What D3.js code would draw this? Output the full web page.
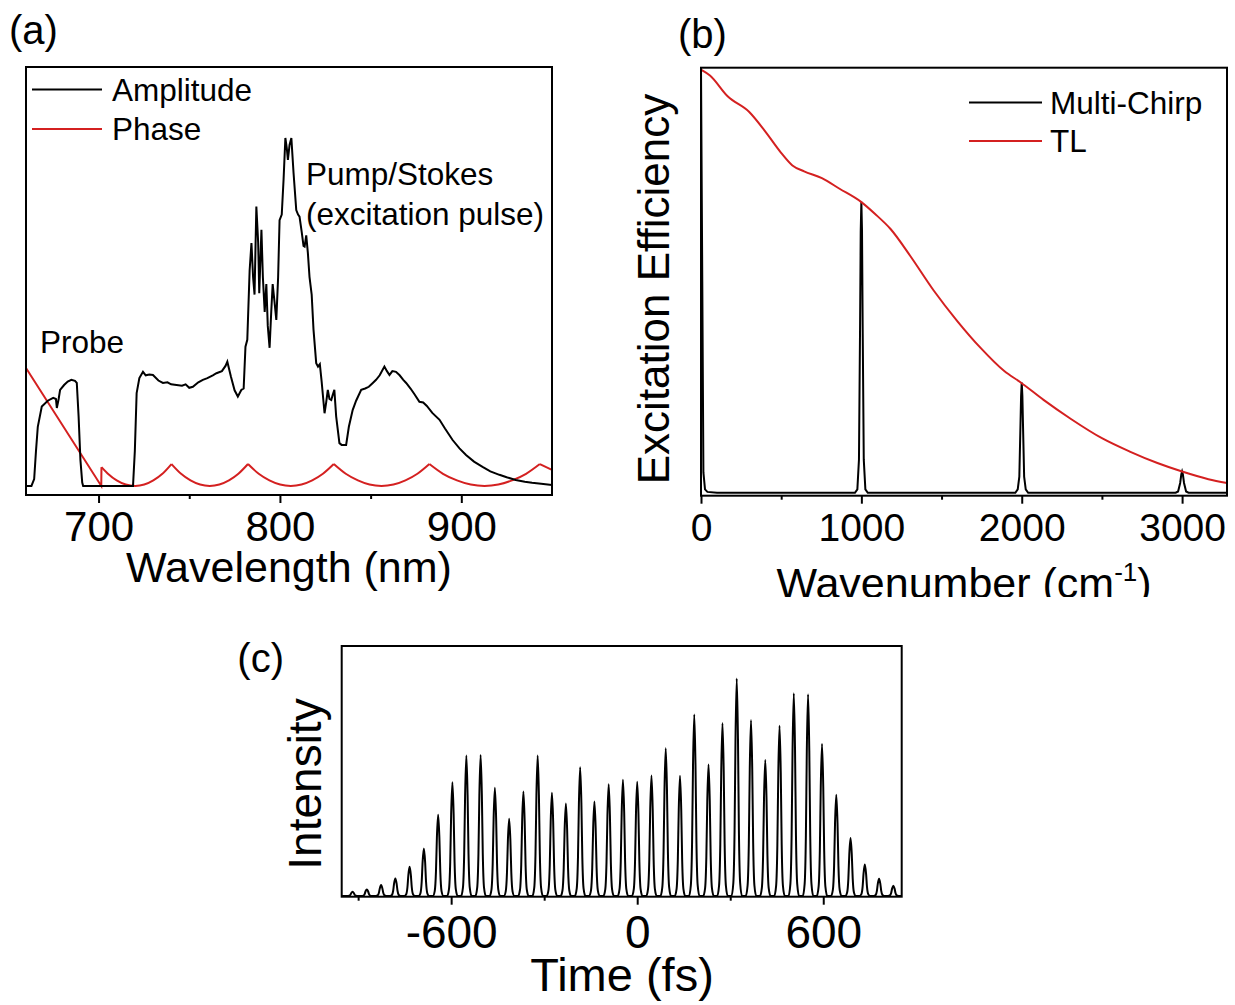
<!DOCTYPE html>
<html>
<meta charset="utf-8">
<style>
body { margin: 0; background: #fff; }
svg text { font-family: "Liberation Sans", Arial, sans-serif; fill: #000; }
.frame { fill: none; stroke: #000; stroke-width: 2; }
.black-line { fill: none; stroke: #000; stroke-width: 2; }
.red-line { fill: none; stroke: #d42020; stroke-width: 2; }
.axis line { stroke: #000; stroke-width: 2; }
.axis path { display: none; }
.legend { font-size: 31.5px; }
.panel-label { font-size: 40px; }
.axis-title { font-size: 43px; }
</style>
<body>
<script src="https://d3js.org/d3.v7.min.js"></script>
<script>

// ---------- (a) spectrum: [wavelength nm, amplitude a.u.] ----------
var ampPoints = [
  [660, 0], [663, 0], [664.5, 0.02], [665.5, 0.1], [666.5, 0.17], [668.7, 0.228], [672, 0.245],
  [675, 0.253], [676.5, 0.25], [677, 0.224], [678, 0.25], [678.8, 0.276], [681, 0.29], [683, 0.3],
  [685, 0.305], [687, 0.302], [688, 0.296], [689, 0.2], [690, 0.075], [691, 0.01], [691.5, 0],
  [719, 0], [720, 0.1], [721, 0.267], [722.5, 0.31], [724.5, 0.328], [726, 0.318], [728, 0.32],
  [730, 0.319], [733, 0.303], [735.5, 0.296], [738, 0.298], [740, 0.292], [743, 0.29], [746, 0.288],
  [748, 0.292], [750, 0.282], [752, 0.285], [755, 0.298], [757.5, 0.305], [760, 0.31], [763, 0.318],
  [765, 0.324], [768, 0.33], [770, 0.345], [771, 0.357], [773, 0.314], [775, 0.275], [776.8, 0.257],
  [778.7, 0.276], [780, 0.28], [781, 0.4], [782, 0.42], [783.3, 0.62], [784.3, 0.698], [785.2, 0.6],
  [786, 0.55], [787, 0.803], [788, 0.7], [788.6, 0.554], [789.8, 0.736], [790.6, 0.6], [791.6, 0.5],
  [792.5, 0.58], [793.3, 0.46], [794.3, 0.397], [795.2, 0.5], [796, 0.58], [797, 0.53], [798, 0.477],
  [799, 0.6], [799.8, 0.764], [801, 0.78], [802, 0.88], [803, 1.0], [803.8, 0.97], [804.4, 0.937],
  [805.3, 0.98], [806.3, 1.0], [807.5, 0.9], [809, 0.793], [810, 0.78], [810.8, 0.774], [812, 0.73],
  [813, 0.69], [813.6, 0.688], [814.5, 0.72], [815.4, 0.67], [816.3, 0.601], [817.5, 0.55],
  [818.5, 0.45], [820, 0.353], [821, 0.343], [822, 0.35], [823, 0.3], [824.6, 0.209], [825.5, 0.24],
  [826.4, 0.276], [827.3, 0.25], [828.3, 0.247], [829, 0.26], [830, 0.276], [831, 0.2], [832.8, 0.123],
  [834, 0.118], [836.5, 0.118], [838, 0.17], [840.1, 0.218], [842, 0.245], [844.8, 0.276], [847, 0.28],
  [849, 0.285], [851.2, 0.296], [853, 0.305], [855, 0.318], [857.6, 0.343], [859, 0.33], [860.4, 0.319],
  [862, 0.33], [864, 0.328], [866, 0.318], [868, 0.305], [869.6, 0.296], [872, 0.28], [874, 0.265],
  [876.9, 0.242], [879, 0.24], [881, 0.23], [884, 0.21], [888, 0.19], [891, 0.165], [895.2, 0.132],
  [899, 0.108], [902.6, 0.089], [907, 0.07], [911.7, 0.055], [916, 0.042], [921, 0.032], [925, 0.025],
  [930, 0.017], [935, 0.012], [939, 0.009], [944, 0.006], [950, 0.003]
];

// phase: straight ramp, then wrapped arcs between cusps
var phaseRamp = [[660, 0.339], [701.5, 0], [701.6, 0.054]];
var phaseArcs = [
  [[701.6, 0.054], [705, 0.036], [710, 0.016], [715, 0.004], [720.2, 0], [725.2, 0.004], [730.2, 0.016], [735.2, 0.035], [740.2, 0.063]],
  [[740.2, 0.063], [745.5, 0.035], [750.7, 0.016], [756, 0.004], [761.3, 0], [766.6, 0.004], [771.9, 0.016], [777.1, 0.035], [782.4, 0.063]],
  [[782.4, 0.063], [788.3, 0.035], [794.2, 0.016], [800.1, 0.004], [806, 0], [811.9, 0.004], [817.8, 0.016], [823.7, 0.035], [829.7, 0.063]],
  [[829.7, 0.063], [836.3, 0.035], [843, 0.016], [849.4, 0.004], [856, 0], [862.6, 0.004], [869.2, 0.016], [875.8, 0.035], [882.4, 0.063]],
  [[882.4, 0.063], [889.9, 0.035], [897.6, 0.016], [905.2, 0.004], [912.8, 0], [920.4, 0.004], [928, 0.016], [935.7, 0.035], [943.3, 0.063]]
];
var phaseTail = [[943.3, 0.063], [950, 0.046]];

var aTicks = [700, 800, 900];
var aMinor = [750, 850];

// ---------- (b) excitation efficiency: [wavenumber cm-1, value] ----------
var tlPoints = [
  [0, 1.0], [56, 0.986], [166, 0.937], [301, 0.9], [399, 0.855], [497, 0.805], [570, 0.774],
  [643, 0.76], [754, 0.744], [864, 0.719], [998, 0.688], [1084, 0.66], [1182, 0.624], [1304, 0.561],
  [1451, 0.479], [1598, 0.407], [1745, 0.343], [1891, 0.289], [1994, 0.262], [2136, 0.221],
  [2307, 0.176], [2503, 0.13], [2674, 0.099], [2846, 0.072], [3000, 0.052], [3164, 0.034], [3280, 0.025]
];
var chirpPoints = [
  [0, 1.004], [8, 0.5], [15, 0.05], [25, 0.01], [40, 0.004], [100, 0.002], [960, 0.002],
  [975, 0.01], [985, 0.08], [992, 0.4], [996, 0.62], [1000, 0.688], [1004, 0.62], [1008, 0.4],
  [1015, 0.08], [1025, 0.01], [1040, 0.002], [1960, 0.002], [1975, 0.01], [1985, 0.04], [1992, 0.16],
  [1996, 0.23], [2000, 0.262], [2004, 0.23], [2008, 0.16], [2015, 0.04], [2025, 0.01], [2040, 0.002],
  [2960, 0.002], [2975, 0.005], [2988, 0.025], [2995, 0.045], [3000, 0.052], [3005, 0.045],
  [3012, 0.025], [3025, 0.005], [3040, 0.002], [3280, 0.002]
];
var bTicks = [0, 1000, 2000, 3000];
var bMinor = [500, 1500, 2500];

// ---------- (c) pulse train ----------
var pulseTimes = [-918, -872, -826, -780, -734, -688, -642, -596, -551, -505, -459, -413, -367,
  -321, -275, -230, -184, -138, -92, -46, 0, 46, 92, 138, 184, 230, 275, 321, 367, 413, 459, 505,
  551, 596, 642, 688, 734, 780, 826];
var pulseHeights = [13, 20, 33, 53, 88, 143, 245, 343, 423, 425, 326, 233, 315, 423, 311, 279, 388,
  285, 337, 350, 344, 363, 445, 362, 547, 396, 521, 655, 530, 410, 513, 611, 608, 458, 305, 175, 95, 52, 31];
// single pulse profile: [offset fs, fraction of peak]
var pulseShape = [[-17, 0], [-11, 0.06], [-7, 0.3], [-4, 0.72], [0, 1], [4, 0.72], [7, 0.3], [11, 0.06], [17, 0]];
var cTicks = [-600, 0, 600];
var cMinor = [-900, -300, 300];


var svg = d3.select("body").append("svg")
    .attr("width", 1235)
    .attr("height", 1005)
    .style("display", "block");

function bottomAxis(g, x, y, major, minor, fontSize, pad, len) {
  var ax = g.append("g").attr("class", "axis").attr("transform", "translate(0," + y + ")")
    .call(d3.axisBottom(x).tickValues(major).tickSize(len).tickPadding(pad)
      .tickFormat(function(d) { return String(d); }));
  ax.attr("font-size", null).attr("font-family", null);
  ax.selectAll("text").style("font-size", fontSize + "px");
  g.append("g").attr("class", "axis").attr("transform", "translate(0," + y + ")")
    .call(d3.axisBottom(x).tickValues(minor).tickSize(len / 2).tickFormat(""));
}

// ===== panel (a) =====
var xA = d3.scaleLinear().domain([660, 950]).range([26, 552]);
var yA = d3.scaleLinear().domain([-0.026, 1.204]).range([495, 67]);
var pa = svg.append("g");

var lineA = d3.line().x(function(d) { return xA(d[0]); }).y(function(d) { return yA(d[1]); });
var arcA = d3.line().curve(d3.curveMonotoneX).x(function(d) { return xA(d[0]); }).y(function(d) { return yA(d[1]); });

pa.append("path").attr("class", "red-line").attr("d", lineA(phaseRamp));
phaseArcs.forEach(function(arc) {
  pa.append("path").attr("class", "red-line").attr("d", arcA(arc));
});
pa.append("path").attr("class", "red-line").attr("d", lineA(phaseTail));
pa.append("path").attr("class", "black-line").attr("d", lineA(ampPoints));

pa.append("rect").attr("class", "frame").attr("x", 26).attr("y", 67).attr("width", 526).attr("height", 428);
bottomAxis(pa, xA, 495, aTicks, aMinor, 42, 8, 8);

pa.append("line").attr("x1", 32).attr("x2", 102).attr("y1", 89.5).attr("y2", 89.5).attr("stroke", "#000").attr("stroke-width", 2);
pa.append("text").attr("class", "legend").attr("x", 112).attr("y", 100.5).text("Amplitude");
pa.append("line").attr("x1", 32).attr("x2", 102).attr("y1", 129).attr("y2", 129).attr("stroke", "#d42020").attr("stroke-width", 2);
pa.append("text").attr("class", "legend").attr("x", 112).attr("y", 140).text("Phase");

pa.append("text").attr("class", "legend").attr("x", 40).attr("y", 353).text("Probe");
pa.append("text").attr("class", "legend").attr("x", 306).attr("y", 185).text("Pump/Stokes");
pa.append("text").attr("class", "legend").attr("x", 306).attr("y", 225).text("(excitation pulse)");

pa.append("text").attr("class", "panel-label").attr("x", 9).attr("y", 44).text("(a)");
pa.append("text").attr("class", "axis-title").attr("x", 289).attr("y", 582).attr("text-anchor", "middle").text("Wavelength (nm)");

// ===== panel (b) =====
var xB = d3.scaleLinear().domain([0, 3280]).range([701, 1227]);
var yB = d3.scaleLinear().domain([-0.005, 1.0045]).range([495.7, 67.7]);
var pb = svg.append("g");

var lineB = d3.line().x(function(d) { return xB(d[0]); }).y(function(d) { return yB(d[1]); });
var smoothB = d3.line().curve(d3.curveMonotoneX).x(function(d) { return xB(d[0]); }).y(function(d) { return yB(d[1]); });

pb.append("path").attr("class", "black-line").attr("d", lineB(chirpPoints));
pb.append("path").attr("class", "red-line").attr("d", smoothB(tlPoints));

pb.append("rect").attr("class", "frame").attr("x", 701).attr("y", 67.7).attr("width", 526).attr("height", 428);
bottomAxis(pb, xB, 495.7, bTicks, bMinor, 39, 10, 8);

pb.append("line").attr("x1", 969).attr("x2", 1042).attr("y1", 102.5).attr("y2", 102.5).attr("stroke", "#000").attr("stroke-width", 2);
pb.append("text").attr("class", "legend").attr("x", 1050).attr("y", 113.5).text("Multi-Chirp");
pb.append("line").attr("x1", 969).attr("x2", 1042).attr("y1", 141).attr("y2", 141).attr("stroke", "#d42020").attr("stroke-width", 2);
pb.append("text").attr("class", "legend").attr("x", 1050).attr("y", 152).text("TL");

pb.append("text").attr("class", "panel-label").attr("x", 678).attr("y", 48).text("(b)");
pb.append("text").attr("class", "axis-title")
  .attr("transform", "translate(669,289) rotate(-90)")
  .attr("text-anchor", "middle").style("font-size", "44px")
  .text("Excitation Efficiency");

svg.append("clipPath").attr("id", "clip-b").append("rect")
  .attr("x", 620).attr("y", 545).attr("width", 615).attr("height", 52);
var tb = pb.append("text").attr("class", "axis-title").attr("x", 964).attr("y", 598)
  .attr("text-anchor", "middle").attr("clip-path", "url(#clip-b)");
tb.append("tspan").text("Wavenumber (cm");
tb.append("tspan").attr("dy", -17).style("font-size", "26px").text("-1");
tb.append("tspan").attr("dy", 17).text(")");

// ===== panel (c) =====
var xC = d3.scaleLinear().domain([-953, 853]).range([341.7, 901.7]);
var yC = d3.scaleLinear().domain([-2, 753]).range([896.7, 646]);
var pc = svg.append("g");

var trace = [[-953, 0]];
pulseTimes.forEach(function(t, i) {
  pulseShape.forEach(function(s) {
    trace.push([t + s[0], pulseHeights[i] * s[1]]);
  });
});
trace.push([853, 0]);

var lineC = d3.line().curve(d3.curveMonotoneX).x(function(d) { return xC(d[0]); }).y(function(d) { return yC(d[1]); });
pc.append("path").attr("class", "black-line").attr("stroke-width", 2.5).attr("d", lineC(trace));

pc.append("rect").attr("class", "frame").attr("x", 341.7).attr("y", 646).attr("width", 560).attr("height", 250.7);
bottomAxis(pc, xC, 896.7, cTicks, cMinor, 46, 11, 8);

pc.append("text").attr("class", "panel-label").attr("x", 284).attr("y", 672).attr("text-anchor", "end").text("(c)");
pc.append("text").attr("class", "axis-title")
  .attr("transform", "translate(321,784) rotate(-90)")
  .attr("text-anchor", "middle").style("font-size", "46px")
  .text("Intensity");
pc.append("text").attr("class", "axis-title").attr("x", 622).attr("y", 991)
  .attr("text-anchor", "middle").style("font-size", "47px").text("Time (fs)");

</script>
</body>
</html>
